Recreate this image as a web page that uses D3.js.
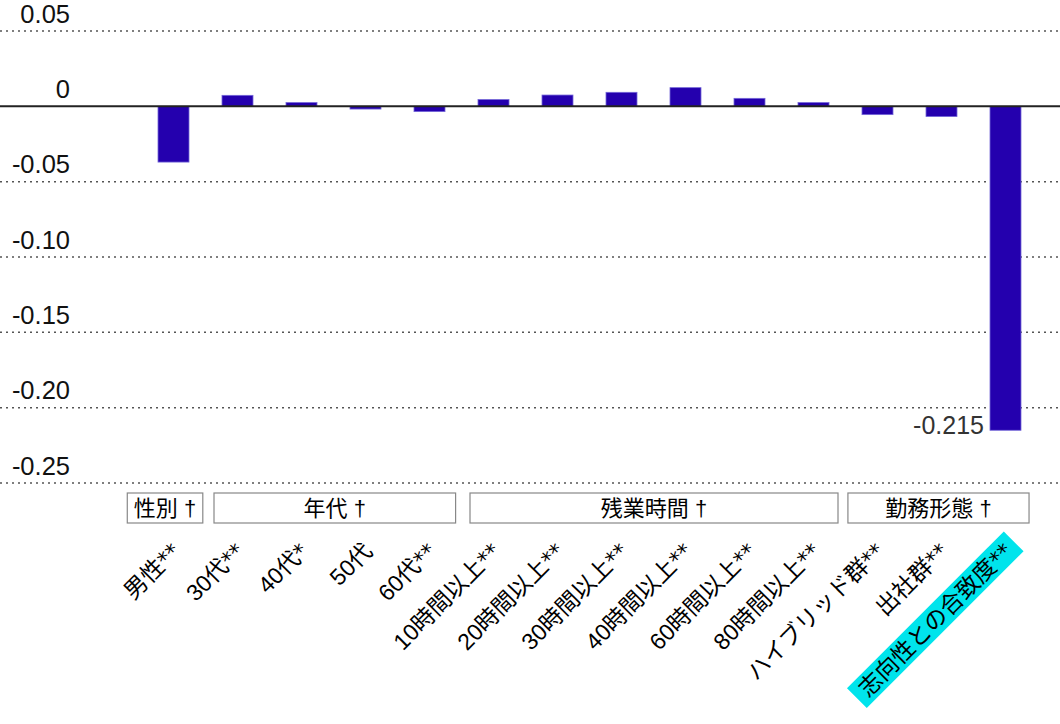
<!DOCTYPE html>
<html><head><meta charset="utf-8">
<script src="https://cdn.jsdelivr.net/npm/d3@7"></script>
<style>
html,body{margin:0;padding:0;background:#fff;}
svg{display:block;font-family:"Liberation Sans","Noto Sans CJK JP",sans-serif;}
</style></head>
<body><svg id="c" width="1060" height="724"></svg>
<script>
const categories = ["男性**","30代**","40代*","50代","60代**","10時間以上**","20時間以上**","30時間以上**","40時間以上**","60時間以上**","80時間以上**","ハイブリッド群**","出社群**","志向性との合致度**"];
const values = [-0.037,0.0073,0.0025,-0.0018,-0.0035,0.0045,0.0075,0.0093,0.0124,0.0053,0.0025,-0.0055,-0.0068,-0.215];
const yTicks = [0.05,0,-0.05,-0.10,-0.15,-0.20,-0.25];
const yTickLabels = ["0.05","0","-0.05","-0.10","-0.15","-0.20","-0.25"];
const groupLabels = ["性別 †","年代 †","残業時間 †","勤務形態 †"];
const groupFrom = [-0.23,1.125,5.125,11.03];
const groupTo = [0.95,4.9,10.875,13.86];
const highlighted = ["志向性との合致度**"];
const labelled = ["志向性との合致度**"];

const svg = d3.select("#c");
const x = d3.scaleBand().domain(categories).range([142,1038]).paddingInner(0.5).paddingOuter(0.25);
const y = d3.scaleLinear().domain([-0.25,0.05]).range([483,31]);
const step = x.step();

// grid
svg.append("g").selectAll("line").data(yTicks.filter(t=>t!==0)).join("line")
  .attr("x1",0).attr("x2",1060).attr("y1",d=>y(d)).attr("y2",d=>y(d))
  .attr("stroke","#555").attr("stroke-width",1.5).attr("stroke-dasharray","2,4");
svg.append("g").selectAll("text").data(yTicks).join("text")
  .attr("x",70).attr("y",d=>y(d)-8.5).attr("text-anchor","end")
  .attr("font-size",25.5).attr("fill","#111").text((d,i)=>yTickLabels[i]);

// bars
svg.append("g").selectAll("rect").data(values).join("rect")
  .attr("x",(d,i)=>x(categories[i])).attr("width",x.bandwidth()-1)
  .attr("y",d=>y(Math.max(0,d))).attr("height",d=>Math.abs(y(d)-y(0)))
  .attr("fill","#2400ae").attr("stroke","#7466d8").attr("stroke-width",0.8);

// zero line
svg.append("line").attr("x1",0).attr("x2",1060).attr("y1",y(0)).attr("y2",y(0))
  .attr("stroke","#222").attr("stroke-width",2);

// value label
values.forEach((v,i)=>{
  if(!labelled.includes(categories[i])) return;
  svg.append("text").attr("x",x(categories[i])-6).attr("y",y(v)+4)
    .attr("text-anchor","end").attr("font-size",25).attr("fill","#333").text(String(v));
});

// group boxes
const base = x(categories[0]) - (step - x.bandwidth())/2;
const gg = svg.append("g");
groupLabels.forEach((g,i)=>{
  const x0 = base + groupFrom[i]*step, x1 = base + groupTo[i]*step;
  gg.append("rect").attr("x",x0).attr("y",493).attr("width",x1-x0).attr("height",30)
    .attr("fill","none").attr("stroke","#888").attr("stroke-width",1.2);
  gg.append("text").attr("x",(x0+x1)/2).attr("y",516).attr("text-anchor","middle")
    .attr("font-size",22).attr("fill","#000").text(g);
});

// x labels
const xl = svg.append("g");
categories.forEach((c,i)=>{
  const cx = x(c) + x.bandwidth()/2;
  const g = xl.append("g").attr("transform",`translate(${cx+2},${547}) rotate(-45)`);
  const t = g.append("text").attr("text-anchor","end").attr("dy","0.35em")
    .attr("font-size",23).attr("fill","#000");
  const m = c.match(/^(.*?)(\**)$/);
  t.append("tspan").text(m[1]);
  if(m[2]) t.append("tspan").attr("font-family","DejaVu Sans").attr("font-size",22).text(m[2]);
  if(highlighted.includes(c)){
    const bb = t.node().getBBox();
    g.insert("rect","text").attr("x",bb.x-8).attr("y",bb.y-1).attr("width",bb.width+16).attr("height",bb.height+2)
      .attr("fill","#00e4ec");
  }
});
</script></body></html>
